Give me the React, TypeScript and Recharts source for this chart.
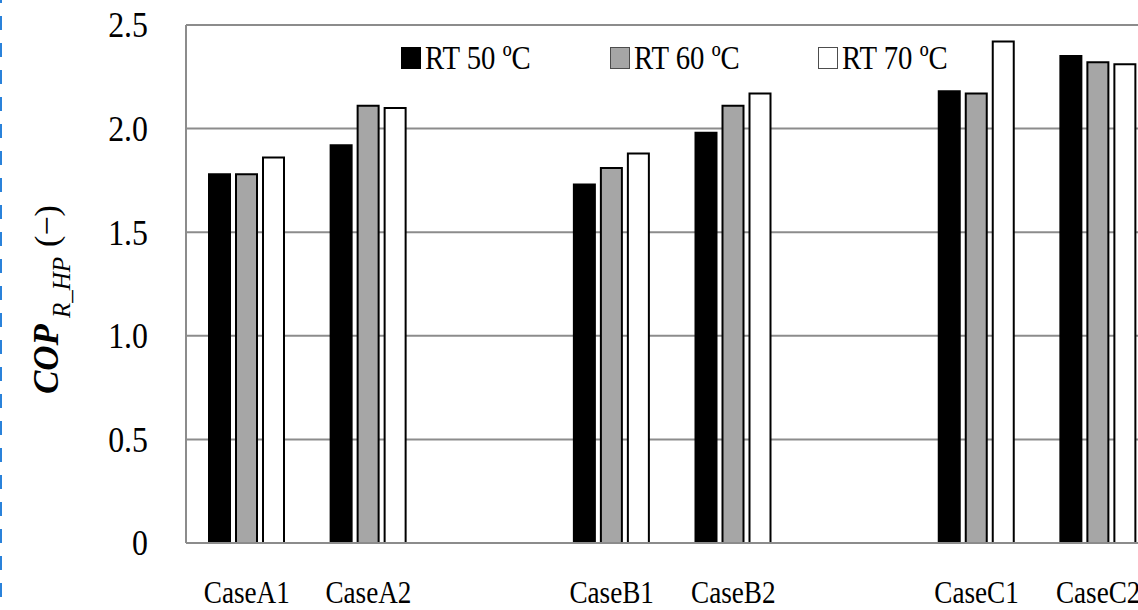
import React from 'react';
import { BarChart, Bar, XAxis, YAxis, CartesianGrid, Legend, Label } from 'recharts';

const FONT = '"Liberation Serif", "Times New Roman", serif';

const categories = ['CaseA1', 'CaseA2', '', 'CaseB1', 'CaseB2', '', 'CaseC1', 'CaseC2'];
const rt50 = [1.78, 1.92, null, 1.73, 1.98, null, 2.18, 2.35];
const rt60 = [1.78, 2.11, null, 1.81, 2.11, null, 2.17, 2.32];
const rt70 = [1.86, 2.10, null, 1.88, 2.17, null, 2.42, 2.31];

const seriesKeys = ['rt50', 'rt60', 'rt70'];
const seriesNames = ['RT 50 ºC', 'RT 60 ºC', 'RT 70 ºC'];
const seriesFills = ['#000000', '#a6a6a6', '#ffffff'];
const legendBorders = ['#000000', '#4d4d4d', '#4d4d4d'];

const yTicks = [0, 0.5, 1, 1.5, 2, 2.5];
const yTickLabels = ['0', '0.5', '1.0', '1.5', '2.0', '2.5'];

const data = categories.map((c, i) => ({
  name: c,
  rt50: rt50[i],
  rt60: rt60[i],
  rt70: rt70[i],
}));

const YTick = (props: any) => {
  const { x, y, payload } = props;
  const idx = yTicks.indexOf(payload.value);
  const label = idx >= 0 ? yTickLabels[idx] : String(payload.value);
  return (
    <g transform={`translate(${x - 38},${y})`}>
      <text x={0} y={0} dy="0.355em" textAnchor="end" transform="scale(0.91,1)" fontFamily={FONT} fontSize={35} fill="#000">
        {label}
      </text>
    </g>
  );
};

const XTick = (props: any) => {
  const { x, y, payload } = props;
  return (
    <g transform={`translate(${x},${y})`}>
      <text x={0} y={60} textAnchor="middle" transform="scale(0.877,1)" fontFamily={FONT} fontSize={31} fill="#000">
        {payload.value}
      </text>
    </g>
  );
};

const YLabel = () => (
  <text transform="translate(58,394) rotate(-90)" fontFamily={FONT} fill="#000">
    <tspan fontSize={35} fontWeight="bold" fontStyle="italic">COP</tspan>
    <tspan fontSize={25} fontStyle="italic" dx={6} dy={12}>R_HP</tspan>
    <tspan fontSize={34} dx={10} dy={-12}>(−)</tspan>
  </text>
);

const LegendContent = () => (
  <div style={{ fontFamily: FONT, fontSize: 34, lineHeight: '34px', whiteSpace: 'nowrap', color: '#000' }}>
    {seriesNames.map((n, i) => (
      <div key={n} style={{ display: 'inline-block', width: 208.5 }}>
        <span
          style={{
            display: 'inline-block',
            width: 20,
            height: 22,
            boxSizing: 'border-box',
            background: seriesFills[i],
            border: `1.5px solid ${legendBorders[i]}`,
          }}
        />
        <span style={{ display: 'inline-block', marginLeft: 4, transform: 'scaleX(0.846)', transformOrigin: 'left center' }}>{n}</span>
      </div>
    ))}
  </div>
);

export default function App() {
  return (
    <div style={{ position: 'fixed', left: 0, top: 0, width: 1138, height: 610, overflow: 'hidden', background: '#fff' }}>
      <BarChart
        width={1170}
        height={610}
        data={data}
        margin={{ top: 25, right: 11, bottom: 0, left: 0 }}
        barCategoryGap={23}
        barGap={6}
      >
        <CartesianGrid vertical={false} stroke="#8c8c8c" strokeWidth={2} />
        <XAxis
          dataKey="name"
          interval={0}
          height={67}
          tickLine={false}
          tickSize={0}
          tickMargin={0}
          axisLine={{ stroke: '#8c8c8c', strokeWidth: 2 }}
          tick={<XTick />}
        />
        <YAxis
          type="number"
          domain={[0, 2.5]}
          ticks={yTicks}
          interval={0}
          width={186}
          tickLine={false}
          tickSize={0}
          tickMargin={0}
          axisLine={{ stroke: '#8c8c8c', strokeWidth: 2 }}
          tick={<YTick />}
        >
          <Label content={() => <YLabel />} />
        </YAxis>
        <Legend
          layout="horizontal"
          verticalAlign="middle"
          align="center"
          content={LegendContent}
          wrapperStyle={{ top: 40.5, left: 401, width: 760, height: 40 }}
        />
        {seriesKeys.map((k, i) => (
          <Bar
            key={k}
            dataKey={k}
            name={seriesNames[i]}
            fill={seriesFills[i]}
            stroke="#000"
            strokeWidth={2}
            isAnimationActive={false}
          />
        ))}
      </BarChart>
      <div
        style={{
          position: 'absolute',
          left: 0,
          top: 0,
          width: 2,
          height: 610,
          backgroundImage: 'linear-gradient(to bottom, #2a82da 0px, #2a82da 14px, transparent 14px, transparent 27px)',
          backgroundSize: '2px 27px',
          backgroundPosition: '0 16px',
          backgroundRepeat: 'repeat-y',
        }}
      />
    </div>
  );
}
